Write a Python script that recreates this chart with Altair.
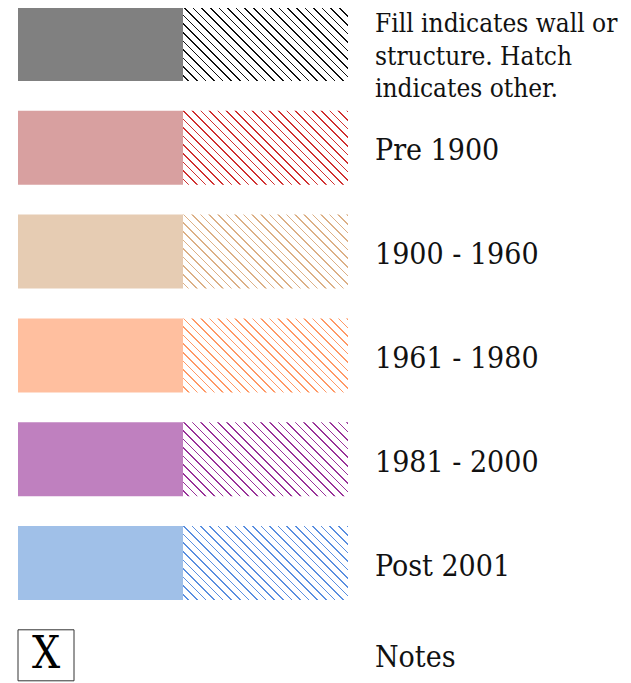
import altair as alt
import pandas as pd

# ---- data ----
labels = [
    "Fill indicates wall or\nstructure. Hatch\nindicates other.",
    "Pre 1900",
    "1900 - 1960",
    "1961 - 1980",
    "1981 - 2000",
    "Post 2001",
]
rows = [0, 1, 2, 3, 4, 5]
fill_colors = ["#808080", "#d8a0a0", "#e6ccb3", "#ffbf9f", "#bf80bf", "#a0c0e8"]
hatch_colors = ["#111111", "#d03030", "#dcb086", "#ff9966", "#993399", "#5a8fe0"]
note_rows = [6]
note_labels = ["Notes"]
note_symbols = ["X"]

# ---- styles / layout ----
FONT = "DejaVu Serif Condensed, DejaVu Serif, serif"
W, H = 615, 675
STEP = 103.8
SW_W, SW_H = 165, 74

df = pd.DataFrame({"row": rows, "label": labels, "fill": fill_colors, "hatch": hatch_colors})
notes = pd.DataFrame({"row": note_rows, "label": note_labels, "symbol": note_symbols})

ysc = alt.Scale(domain=[1 / STEP, 1 / STEP + H / STEP], range=[0, H])


def hatch_gradient(color, w=SW_W, h=SW_H, period=8.6, lw=1.6, phase=0.5):
    k = (w + h) / (w * w + h * h)
    tot = w + h
    stops = []
    m = -int(h // period) - 1
    while True:
        c = m * period + phase + h
        a, b = (c - lw / 2) / tot, (c + lw / 2) / tot
        m += 1
        if b <= 0:
            continue
        if a >= 1:
            break
        a, b = max(a, 0.0), min(b, 1.0)
        stops += [
            {"offset": a, "color": "white"},
            {"offset": a, "color": color},
            {"offset": b, "color": color},
            {"offset": b, "color": "white"},
        ]
    return {
        "gradient": "linear",
        "x1": 0, "y1": 1,
        "x2": w * k, "y2": 1 - h * k,
        "stops": stops,
    }


base = alt.Chart(df)

solid = base.mark_rect().encode(
    x=alt.value(10), x2=alt.value(10 + SW_W),
    y=alt.Y("row:Q", scale=ysc, axis=None),
    y2="y2:Q",
    fill=alt.Fill("label:N", scale=alt.Scale(domain=labels, range=fill_colors), legend=None),
).transform_calculate(y2=f"datum.row + {SW_H / STEP}")

hatch_layers = []
for r, col in zip(rows, hatch_colors):
    hatch_layers.append(
        base.transform_filter(f"datum.row == {r}")
        .transform_calculate(y2=f"datum.row + {SW_H / STEP}")
        .mark_rect(fill=hatch_gradient(col))
        .encode(
            x=alt.value(10 + SW_W), x2=alt.value(10 + 2 * SW_W),
            y=alt.Y("row:Q", scale=ysc, axis=None),
            y2="y2:Q",
        )
    )

title_text = base.transform_filter("datum.row == 0").transform_calculate(
    ty=f"datum.row + {25 / STEP}", lines="split(datum.label, '\\n')"
).mark_text(
    align="left", baseline="alphabetic", font=FONT, fontSize=26, lineHeight=32.5, color="#111111"
).encode(
    x=alt.value(367),
    y=alt.Y("ty:Q", scale=ysc, axis=None),
    text="lines:N",
)

row_text = base.transform_filter("datum.row > 0").transform_calculate(
    ty=f"datum.row + {49.5 / STEP}"
).mark_text(
    align="left", baseline="alphabetic", font=FONT, fontSize=30, color="#111111"
).encode(
    x=alt.value(367),
    y=alt.Y("ty:Q", scale=ysc, axis=None),
    text="label:N",
)

nbase = alt.Chart(notes)
note_box = nbase.transform_calculate(y2=f"datum.row + {51 / STEP}").mark_rect(
    fill="white", stroke="#333333", strokeWidth=1
).encode(
    x=alt.value(10), x2=alt.value(66),
    y=alt.Y("row:Q", scale=ysc, axis=None),
    y2="y2:Q",
)
note_symbol = nbase.transform_calculate(ty=f"datum.row + {38.5 / STEP}").mark_text(
    align="center", baseline="alphabetic", font=FONT, fontSize=44, color="#000000"
).encode(
    x=alt.value(38),
    y=alt.Y("ty:Q", scale=ysc, axis=None),
    text="symbol:N",
)
note_text = nbase.transform_calculate(ty=f"datum.row + {37 / STEP}").mark_text(
    align="left", baseline="alphabetic", font=FONT, fontSize=30, color="#111111"
).encode(
    x=alt.value(367),
    y=alt.Y("ty:Q", scale=ysc, axis=None),
    text="label:N",
)

chart = alt.layer(
    solid, *hatch_layers, title_text, row_text, note_box, note_symbol, note_text
).properties(
    width=W, height=H, padding=0, autosize=alt.AutoSizeParams(type="none"),
    background="white",
).configure_view(stroke=None)

chart.save("out.html", embed_options={"renderer": "svg", "actions": False})
